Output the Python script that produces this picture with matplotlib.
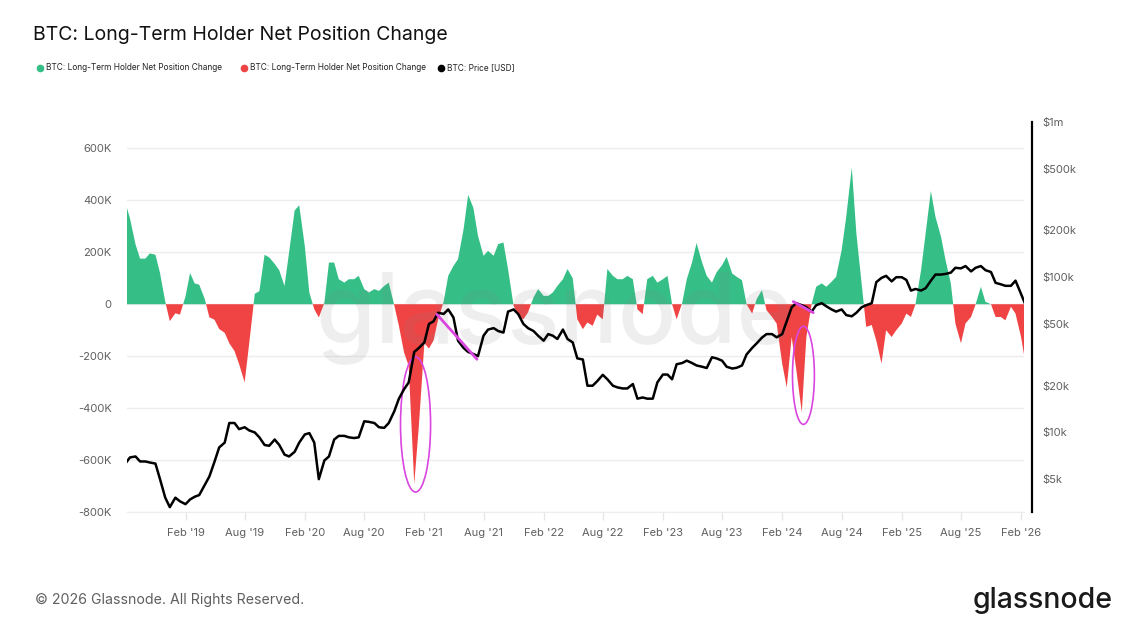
import numpy as np
import pandas as pd
import matplotlib
matplotlib.use("Agg")
import matplotlib.pyplot as plt
import matplotlib.dates as mdates
from matplotlib.patches import Ellipse
from matplotlib.lines import Line2D

plt.rcParams['font.family'] = ['Inter', 'DejaVu Sans']

#=============================================================================#
## data: one value on the 1st and 15th of each month
dates = pd.date_range('2018-08-01', '2026-02-15', freq='SMS')

# LTH net position change [K BTC]
lth_2018 = [390, 330, 230, 175, 175, 195, 190, 120, 10, -65]
lth_2019 = [-35, -40, 30, 120, 80, 75, 20, -50, -60, -95, -110, -150,
            -180, -230, -300, -150, 40, 50, 190, 180, 155, 130, 70, 199]
lth_2020 = [360, 380, 224, 45, -19, -51, 5, 160, 160, 96, 83, 96,
            96, 109, 58, 45, 58, 51, 70, 83, -5, -83, -186, -237]
lth_2021 = [-690, -470, -150, -170, -140, -60, 10, 109, 147, 173, 288, 420,
            370, 263, 186, 205, 186, 231, 237, 135, -5, -45, -58, -32]
lth_2022 = [26, 58, 32, 32, 45, 70, 96, 135, 100, -58, -96, -70,
            -83, -40, -58, 135, 109, 96, 96, 109, 96, -20, -38, 96]
lth_2023 = [109, 83, 96, 109, 0, -58, 5, 96, 160, 235, 160, 109,
            83, 122, 150, 182, 118, 105, 92, 0, -36, 20, 54, -23]
lth_2024 = [-49, -74, -228, -320, -126, -250, -415, -126, 0, 67, 80, 67,
            86, 105, 208, 336, 525, 272, 80, -87, -80, -140, -228, -100]
lth_2025 = [-126, -100, -74, -36, -49, 0, 131, 272, 435, 336, 259, 169,
            80, -74, -150, -74, -49, 0, 67, 9, 0, -49, -49, -62]
lth_2026 = [-10, -36, -126, -230]

# BTC price [k USD]
px_2018 = [6.3, 6.9, 7.0, 6.5, 6.5, 6.4, 6.3, 5.0, 3.8, 3.3]
px_2019 = [3.8, 3.6, 3.45, 3.7, 3.85, 3.95, 4.6, 5.2, 6.5, 8.0, 8.6, 11.5,
           11.5, 10.5, 10.8, 10.3, 10.0, 9.3, 8.3, 8.2, 9.0, 8.3, 7.2, 7.0]
px_2020 = [7.5, 8.6, 9.7, 9.9, 8.6, 5.0, 6.6, 7.0, 9.0, 9.5, 9.5, 9.3,
           9.2, 9.3, 11.8, 11.7, 11.5, 10.8, 10.7, 11.5, 13.7, 16.5, 19.0, 21.0]
px_2021 = [33, 35, 38, 50, 52, 59, 58, 62, 55, 39, 35, 33,
           32, 31, 42, 46, 47, 45, 44, 60, 62, 58, 50, 47]
px_2022 = [45, 42, 39, 43, 42, 40, 46, 40, 38, 30, 29.5, 20,
           20, 21.4, 23.5, 22, 20, 19.5, 19.2, 19.2, 20.5, 16.5, 16.8, 16.5]
px_2023 = [16.5, 21, 23.6, 23.6, 22, 27.5, 28, 29, 28, 27, 26.5, 26,
           30.5, 30, 29, 26.5, 25.8, 26.1, 27, 31.8, 35, 37.5, 40.8, 43]
px_2024 = [43, 41, 43, 52, 64, 68, 66, 64, 60, 66, 68, 65,
           62, 60, 62, 57, 56, 59, 64, 66, 68, 93, 99, 102]
px_2025 = [94, 100, 100, 96, 82, 84, 82, 85, 95, 104, 104, 105,
           107, 115, 114, 118, 109, 115, 118, 111, 108, 92, 90, 88]
px_2026 = [88, 95, 78, 66]

lth = np.array(lth_2018 + lth_2019 + lth_2020 + lth_2021 + lth_2022 +
               lth_2023 + lth_2024 + lth_2025 + lth_2026) * 1000.0
price = np.array(px_2018 + px_2019 + px_2020 + px_2021 + px_2022 +
                 px_2023 + px_2024 + px_2025 + px_2026) * 1000.0

left_ticks = [-800e3, -600e3, -400e3, -200e3, 0, 200e3, 400e3, 600e3]
right_ticks = [5e3, 10e3, 20e3, 50e3, 100e3, 200e3, 500e3, 1e6]
right_labels = ['$5k', '$10k', '$20k', '$50k', '$100k', '$200k', '$500k', '$1m']

# magenta annotations: (center date, center value, width days, height)
circles = [('2021-01-05', -462e3, 92, 519e3),
           ('2024-04-06', -273e3, 67, 377e3)]
# price trend strokes: (start date, start price, end date, end price)
strokes = [('2021-03-11', 57.7e3, '2021-07-12', 29.6e3),
           ('2024-03-06', 69.6e3, '2024-05-06', 59.1e3)]

#=============================================================================#
green = '#35bf87'
red = '#f04444'
magenta = '#d946e0'
grey_txt = '#5f5f5f'

fig = plt.figure(figsize=(11.33, 6.33), dpi=100)
ax = fig.add_axes([0.1121, 0.1904, 0.7917, 0.6169])
ax2 = ax.twinx()

ax.fill_between(dates, lth, 0, where=lth >= 0, interpolate=True,
                color=green, linewidth=0, zorder=2)
ax.fill_between(dates, lth, 0, where=lth <= 0, interpolate=True,
                color=red, linewidth=0, zorder=2)

ax.set_xlim(pd.Timestamp('2018-08-06'), pd.Timestamp('2026-02-10'))
ax.set_ylim(-800e3, 700e3)
ax.set_yticks(left_ticks)
ax.set_yticklabels(['0' if v == 0 else '%dK' % (v / 1000) for v in left_ticks])
ax.yaxis.grid(True, color='#ededed', linewidth=1.0)
ax.set_axisbelow(True)
for s in ['top', 'left', 'right']:
    ax.spines[s].set_visible(False)
ax.spines['bottom'].set_color('#ededed')
ax.tick_params(axis='y', length=0, pad=11, labelsize=8, labelcolor=grey_txt)

xt = [pd.Timestamp('%d-%02d-01' % (y, m)) for y in range(2019, 2027)
      for m in (2, 8) if pd.Timestamp('%d-%02d-01' % (y, m)) <= pd.Timestamp('2026-02-01')]
ax.set_xticks(xt)
ax.xaxis.set_major_formatter(mdates.DateFormatter("%b '%y"))
ax.tick_params(axis='x', length=6, width=1, color='#e6e6e6', pad=5,
               labelsize=8, labelcolor=grey_txt)

for c_date, c_val, w_days, h in circles:
    ax.add_patch(Ellipse((mdates.date2num(pd.Timestamp(c_date)), c_val), w_days, h,
                         fill=False, edgecolor=magenta, linewidth=1.2, zorder=5))

# price on log axis
ax2.plot(dates, price, color='black', linewidth=1.8, zorder=3)
ax2.set_yscale('log')
ax2.set_ylim(3050, 1e6)
ax2.set_yticks(right_ticks)
ax2.set_yticklabels(right_labels)
ax2.yaxis.set_minor_locator(matplotlib.ticker.NullLocator())
ax2.tick_params(axis='y', length=0, pad=7, labelsize=8, labelcolor=grey_txt)
for s in ['top', 'left', 'bottom']:
    ax2.spines[s].set_visible(False)
ax2.spines['right'].set_position(('outward', 6))
ax2.spines['right'].set_linewidth(1.6)
ax2.spines['right'].set_color('black')

for d0, p0, d1, p1 in strokes:
    ax2.plot([pd.Timestamp(d0), pd.Timestamp(d1)], [p0, p1], color=magenta,
             linewidth=2.0, solid_capstyle='round', zorder=4)

# watermark
ax.text(0.477, 0.50, 'glassnode', transform=ax.transAxes, ha='center', va='center',
        fontsize=70, color='grey', alpha=0.13, zorder=6, fontweight='medium')

#=============================================================================#
## title, legend, footer
fig.text(33 / 1133, 1 - 40 / 633, 'BTC: Long-Term Holder Net Position Change',
         fontsize=14, color='#111111', va='baseline')

legend_items = [(40, green, 'BTC: Long-Term Holder Net Position Change'),
                (244, red, 'BTC: Long-Term Holder Net Position Change'),
                (441, 'black', 'BTC: Price [USD]')]
for lx, col, txt in legend_items:
    fig.add_artist(Line2D([lx / 1133], [1 - 68 / 633], transform=fig.transFigure,
                          marker='o', markersize=4.5, color=col, linestyle='none'))
    fig.text((lx + 6) / 1133, 1 - 68 / 633, txt, fontsize=6, color='#222222',
             va='center')

fig.text(35 / 1133, 1 - 600 / 633, '\u00a9 2026 Glassnode. All Rights Reserved.',
         fontsize=10.2, color=grey_txt, va='center')
fig.text(1113 / 1133, 1 - 600 / 633, 'glassnode', fontsize=20.5, color='#1a1a1a',
         ha='right', va='center', fontweight='medium')

fig.savefig('out.png', dpi=100)
